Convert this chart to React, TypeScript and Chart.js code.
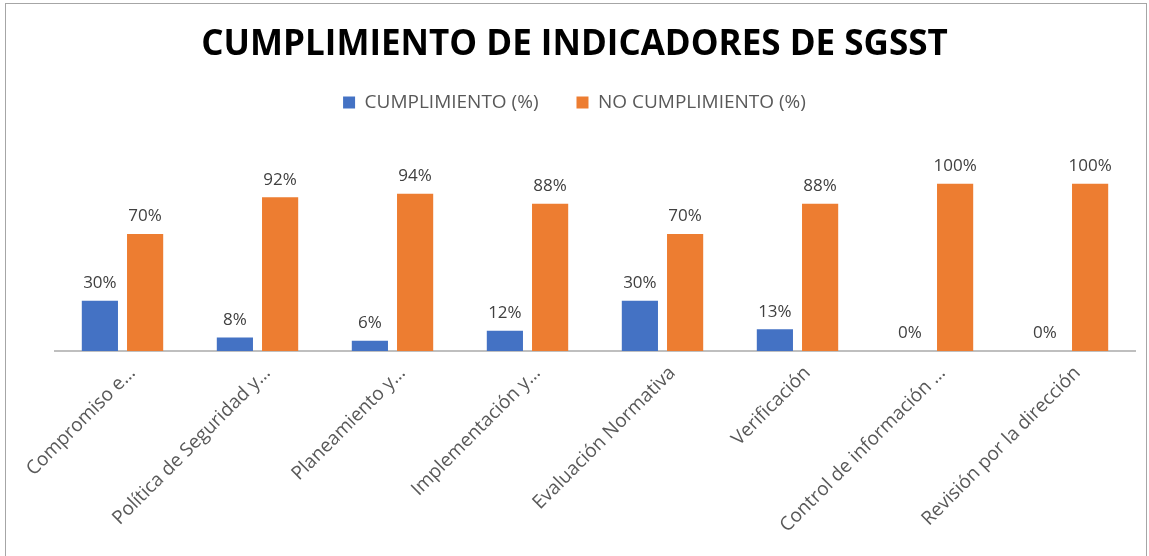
import React, { useEffect, useRef } from "react";
import { Chart, registerables } from "chart.js";

Chart.register(...registerables);

const categories = [
  "Compromiso e…",
  "Política de Seguridad y…",
  "Planeamiento y…",
  "Implementación y…",
  "Evaluación Normativa",
  "Verificación",
  "Control de información …",
  "Revisión por la dirección",
];
const cumplimiento = [30, 8, 6, 12, 30, 13, 0, 0];
const noCumplimiento = [70, 92, 94, 88, 70, 88, 100, 100];
const seriesNames = ["CUMPLIMIENTO (%)", "NO CUMPLIMIENTO (%)"];
const titleText = "CUMPLIMIENTO DE INDICADORES DE SGSST";

const valueLabels = {
  id: "valueLabels",
  afterDatasetsDraw(chart: any) {
    const ctx = chart.ctx;
    ctx.save();
    ctx.font = "17px 'Open Sans', sans-serif";
    ctx.fillStyle = "#404040";
    ctx.textAlign = "center";
    ctx.textBaseline = "bottom";
    chart.data.datasets.forEach((ds: any, i: number) => {
      const meta = chart.getDatasetMeta(i);
      meta.data.forEach((bar: any, j: number) => {
        ctx.fillText(ds.data[j] + "%", bar.x, bar.y - 9);
      });
    });
    ctx.restore();
  },
};

export default function App() {
  const ref = useRef<HTMLCanvasElement>(null);
  useEffect(() => {
    const chart = new Chart(ref.current!, {
      type: "bar",
      data: {
        labels: categories,
        datasets: [
          {
            label: seriesNames[0],
            data: cumplimiento,
            backgroundColor: "#4472C4",
            categoryPercentage: 0.67,
            barPercentage: 0.8,
          },
          {
            label: seriesNames[1],
            data: noCumplimiento,
            backgroundColor: "#ED7D31",
            categoryPercentage: 0.67,
            barPercentage: 0.8,
          },
        ],
      },
      options: {
        responsive: false,
        animation: false,
        layout: { padding: { left: 14, right: 14, top: 24, bottom: 16 } },
        plugins: {
          title: {
            display: true,
            text: titleText,
            color: "#000000",
            font: { family: "'Open Sans', sans-serif", size: 35, weight: "bold" },
            padding: { top: 0, bottom: -11 },
          },
          legend: {
            display: true,
            position: "top",
            labels: {
              boxWidth: 12,
              boxHeight: 12,
              color: "#595959",
              font: { family: "'Open Sans', sans-serif", size: 19 },
              padding: 38,
            },
          },
          tooltip: { enabled: false },
        },
        scales: {
          x: {
            grid: { display: false },
            border: { display: true, color: "#BFBFBF", width: 2 },
            ticks: {
              autoSkip: false,
              maxRotation: 45,
              minRotation: 45,
              labelOffset: 10,
              color: "#595959",
              font: { family: "'Open Sans', sans-serif", size: 19 },
            },
          },
          y: {
            display: true,
            min: 0,
            max: 137,
            grid: { display: false },
            border: { display: false },
            ticks: { display: false },
            afterFit(scale: any) {
              scale.width = 41;
            },
          },
        },
      },
      plugins: [valueLabels],
    });
    return () => chart.destroy();
  }, []);
  return (
    <div style={{ position: "absolute", left: 0, top: 0, width: 1149, height: 556, background: "#fff", overflow: "hidden" }}>
      <div style={{ position: "absolute", left: 5, top: 3, width: 1140, height: 600, border: "1px solid #A6A6A6" }} />
      <canvas ref={ref} width={1149} height={556} style={{ position: "absolute", left: 0, top: 0 }} />
    </div>
  );
}
